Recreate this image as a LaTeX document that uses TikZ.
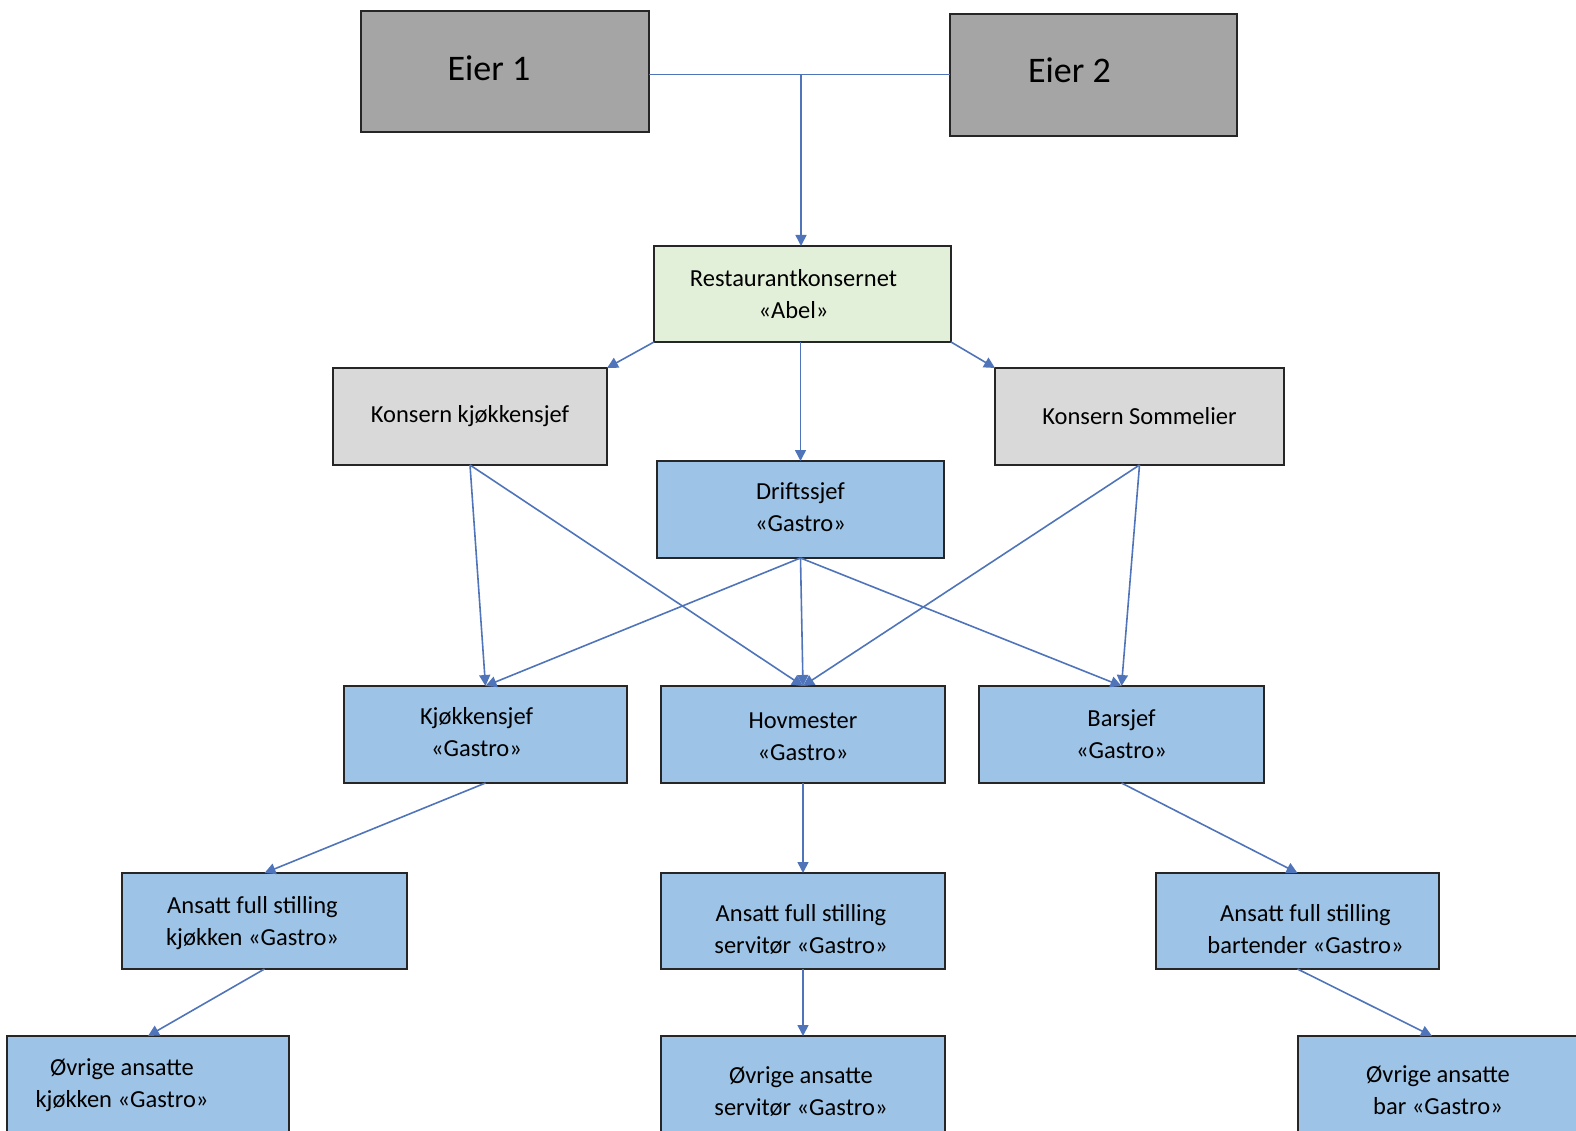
\documentclass[tikz,border=0pt]{standalone}
\usepackage{fontspec}
\setmainfont{Carlito}
\usetikzlibrary{arrows.meta}

\definecolor{linkblue}{HTML}{4F74BA}
\definecolor{ownergray}{HTML}{A5A5A5}
\definecolor{leadgray}{HTML}{D9D9D9}
\definecolor{groupgreen}{HTML}{E2F0D9}
\definecolor{staffblue}{HTML}{9DC3E6}
\definecolor{edgedark}{HTML}{262626}

\tikzset{
  box/.style={draw=edgedark, line width=1.5pt, inner sep=0pt, outer sep=0pt},
  owner/.style={box, fill=ownergray},
  lead/.style={box, fill=leadgray},
  group/.style={box, fill=groupgreen},
  staff/.style={box, fill=staffblue},
  txt/.style={align=center, font=\fontsize{24.5}{32}\selectfont, text=black},
  bigtxt/.style={align=center, font=\fontsize{36}{40}\selectfont, text=black},
  link/.style={draw=linkblue, line width=1.6pt},
  arr/.style={link, -{Triangle[length=11pt,width=11pt]}}
}

\begin{document}
\begin{tikzpicture}[x=1pt,y=-1pt]
\useasboundingbox (0,0) rectangle (1576,1131);
\clip (0,0) rectangle (1576,1131);

% owners
\node[owner, minimum width=288pt, minimum height=121pt,
  label={[bigtxt, shift={(-16pt,3pt)}]center:Eier 1}] (e1) at (505,71.5) {};
\node[owner, minimum width=287pt, minimum height=122pt,
  label={[bigtxt, shift={(-24pt,5pt)}]center:Eier 2}] (e2) at (1093.5,75) {};

% group level
\node[group, minimum width=297pt, minimum height=96pt,
  label={[txt, shift={(-9pt,0pt)}]center:Restaurantkonsernet\\«Abel»}] (rest) at (802.5,294) {};
\node[lead, minimum width=274pt, minimum height=97pt,
  label={[txt]center:Konsern kjøkkensjef}] (kon1) at (470,416.5) {};
\node[lead, minimum width=289pt, minimum height=97pt,
  label={[txt]center:Konsern Sommelier}] (kon2) at (1139.5,416.5) {};
\node[staff, minimum width=287pt, minimum height=97pt,
  label={[txt, shift={(0pt,2pt)}]center:Driftssjef\\«Gastro»}] (drift) at (800.5,509.5) {};

% department heads
\node[staff, minimum width=283pt, minimum height=97pt,
  label={[txt, shift={(-9pt,2pt)}]center:Kjøkkensjef\\«Gastro»}] (kjs) at (485.5,734.5) {};
\node[staff, minimum width=284pt, minimum height=97pt,
  label={[txt, shift={(0pt,-2pt)}]center:Hovmester\\«Gastro»}] (hov) at (803,734.5) {};
\node[staff, minimum width=285pt, minimum height=97pt,
  label={[txt]center:Barsjef\\«Gastro»}] (bar) at (1121.5,734.5) {};

% full-time staff
\node[staff, minimum width=285pt, minimum height=96pt,
  label={[txt, shift={(-12pt,-2pt)}]center:Ansatt full stilling\\kjøkken «Gastro»}] (ak) at (264.5,921) {};
\node[staff, minimum width=284pt, minimum height=96pt,
  label={[txt, shift={(-2pt,-8pt)}]center:Ansatt full stilling\\servitør «Gastro»}] (as) at (803,921) {};
\node[staff, minimum width=283pt, minimum height=96pt,
  label={[txt, shift={(8pt,-8pt)}]center:Ansatt full stilling\\bartender «Gastro»}] (ab) at (1297.5,921) {};

% other staff
\node[staff, minimum width=282pt, minimum height=96pt,
  label={[txt, shift={(-26pt,-1pt)}]center:Øvrige ansatte\\kjøkken «Gastro»}] (ok) at (148,1084) {};
\node[staff, minimum width=284pt, minimum height=96pt,
  label={[txt, shift={(-2pt,-8pt)}]center:Øvrige ansatte\\servitør «Gastro»}] (os) at (803,1084) {};
\node[staff, minimum width=284pt, minimum height=96pt,
  label={[txt, shift={(-2pt,-6pt)}]center:Øvrige ansatte\\bar «Gastro»}] (ob) at (1440,1084) {};

% owners joined, feeding the group
\coordinate (j) at (801,74.5);
\draw[link] (e1.east |- j) -- (e2.west |- j);
\draw[arr] (j) -- (rest.north -| j);

% from the group
\draw[arr] (rest.south west) -- (kon1.north east);
\draw[arr] (rest.south east) -- (kon2.north west);
\draw[arr] (rest.south -| drift.north) -- (drift.north);

% to the department heads
\draw[arr] (kon1.south) -- (kjs.north);
\draw[arr] (kon1.south) -- (hov.north);
\draw[arr] (kon2.south) -- (hov.north);
\draw[arr] (kon2.south) -- (bar.north);
\draw[arr] (drift.south) -- (kjs.north);
\draw[arr] (drift.south) -- (hov.north);
\draw[arr] (drift.south) -- (bar.north);

% down the lines
\draw[arr] (kjs.south) -- (ak.north);
\draw[arr] (hov.south) -- (as.north);
\draw[arr] (bar.south) -- (ab.north);
\draw[arr] (ak.south) -- (ok.north);
\draw[arr] (as.south) -- (os.north);
\draw[arr] (ab.south) -- ([xshift=-8pt]ob.north);
\end{tikzpicture}
\end{document}
